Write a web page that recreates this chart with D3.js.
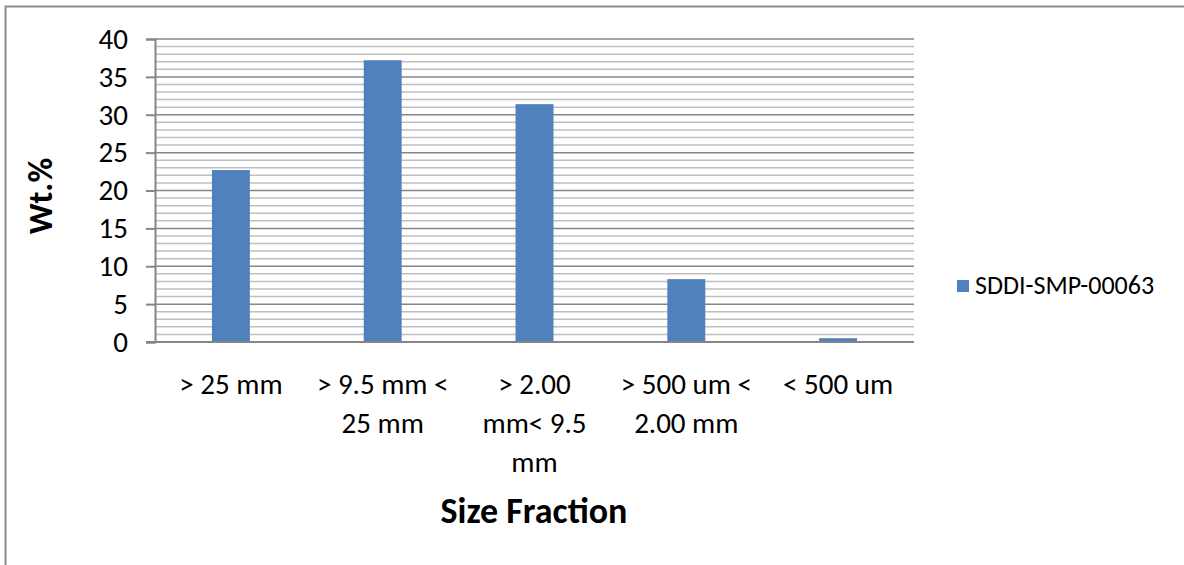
<!DOCTYPE html>
<html><head><meta charset="utf-8">
<script src="https://cdnjs.cloudflare.com/ajax/libs/d3/7.8.5/d3.min.js"></script>
<style>body{margin:0;background:#fff;}svg{display:block;}text{font-family:Carlito,Calibri,Lato,"Open Sans",sans-serif;}</style>
</head><body>
<script>
const categories = [["> 25 mm"], ["> 9.5 mm <", "25 mm"], ["> 2.00", "mm< 9.5", "mm"], ["> 500 um <", "2.00 mm"], ["< 500 um"]];
const seriesName = "SDDI-SMP-00063";
const values = [22.7, 37.2, 31.4, 8.3, 0.5];
const yTicks = [0, 5, 10, 15, 20, 25, 30, 35, 40];
const yTitle = "Wt.%";
const xTitle = "Size Fraction";

(function () {
const W = 1184, H = 565;
const svg = d3.select("body").append("svg").attr("width", W).attr("height", H);
svg.append("path").attr("d", `M5.5,${H} V6.5 H${W}`).attr("fill", "none").attr("stroke", "#8c8c8c").attr("stroke-width", 2);

const pL = 155, pR = 914, pT = 39, pB = 342;
const x = d3.scaleBand().domain(d3.range(categories.length)).range([pL, pR]).paddingInner(0).paddingOuter(0);
const y = d3.scaleLinear().domain([0, 40]).range([pB, pT]);

const minor = d3.range(0, 41, 1).filter(v => v % 5 !== 0);
svg.append("g").selectAll("line").data(minor).join("line")
  .attr("x1", pL).attr("x2", pR).attr("y1", d => y(d)).attr("y2", d => y(d))
  .attr("stroke", "#bfbfbf").attr("stroke-width", 1.5);
svg.append("g").selectAll("line").data(yTicks.filter(v => v > 0)).join("line")
  .attr("x1", pL).attr("x2", pR).attr("y1", d => y(d)).attr("y2", d => y(d))
  .attr("stroke", "#868686").attr("stroke-width", 1.5);

const bw = x.bandwidth() * 0.25;
svg.append("g").selectAll("rect").data(values).join("rect")
  .attr("x", (d, i) => x(i) + x.bandwidth() / 2 - bw / 2)
  .attr("width", bw)
  .attr("y", d => y(d)).attr("height", d => y(0) - y(d))
  .attr("fill", "#4f81bd");

const yAxis = d3.axisLeft(y).tickValues(yTicks).tickSize(9).tickPadding(18);
const ga = svg.append("g").attr("transform", `translate(${pL},0)`).call(yAxis);
ga.select(".domain").attr("stroke", "#868686").attr("stroke-width", 2);
ga.selectAll(".tick line").attr("stroke", "#868686").attr("stroke-width", 2);
ga.selectAll(".tick text").attr("font-size", 29).attr("fill", "#000")
  .style("font-family", "Carlito,Calibri,Lato,sans-serif");

svg.append("line").attr("x1", pL - 9).attr("x2", pR).attr("y1", y(0)).attr("y2", y(0))
  .attr("stroke", "#868686").attr("stroke-width", 2);

const xl = svg.append("g").selectAll("text").data(categories).join("text")
  .attr("text-anchor", "middle").attr("font-size", 29).attr("fill", "#000")
  .attr("transform", (d, i) => `translate(${x(i) + x.bandwidth() / 2},394)`);
xl.selectAll("tspan").data(d => d).join("tspan")
  .attr("x", 0).attr("y", (d, j) => j * 39).text(d => d);

svg.append("text").attr("text-anchor", "middle").attr("font-size", 34).attr("font-weight", "bold")
  .attr("transform", "translate(52,196) rotate(-90)").text(yTitle);
svg.append("text").attr("text-anchor", "middle").attr("font-size", 36).attr("font-weight", "bold")
  .attr("x", 534).attr("y", 523).text(xTitle);

svg.append("rect").attr("x", 957).attr("y", 280).attr("width", 12).attr("height", 12).attr("fill", "#4f81bd");
svg.append("text").attr("x", 975).attr("y", 294).attr("font-size", 26).attr("fill", "#000").text(seriesName);
})();
</script>
</body></html>
